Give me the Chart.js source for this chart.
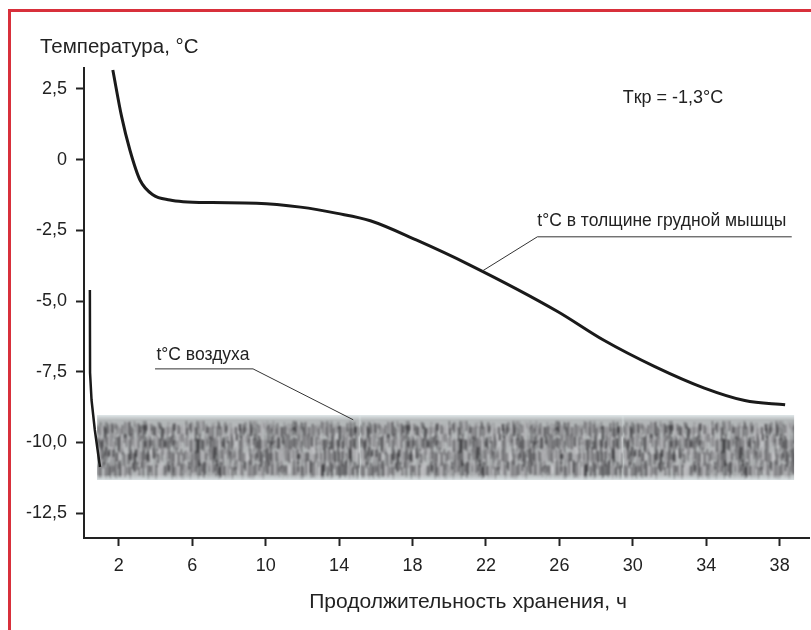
<!DOCTYPE html>
<html>
<head>
<meta charset="utf-8">
<script src="https://cdn.jsdelivr.net/npm/chart.js@4/dist/chart.umd.min.js"></script>
<style>
  body { margin: 0; background: #fff; }
  #wrap { position: relative; width: 811px; height: 630px; }
  #frame { position: absolute; left: 8px; top: 9px; right: 0; bottom: 0;
           border-top: 3px solid #d8303b; border-left: 3px solid #d8303b; pointer-events: none; }
  canvas { position: absolute; left: 0; top: 0; }
</style>
</head>
<body>
<div id="wrap">
  <canvas id="chart" width="811" height="630"></canvas>
  <div id="frame"></div>
</div>
<script>
// температура в толще грудной мышцы
const muscleHours = [1.67, 2.15, 2.6, 3.15, 3.87, 4.78, 5.5, 7.1, 9.5, 11.9, 13.9, 15.7, 18.2, 21.1, 25.9, 28.4, 31.2, 33.9, 36.1, 38.3];
const muscleTemp  = [3.17, 1.52, 0.34, -0.72, -1.25, -1.43, -1.49, -1.52, -1.54, -1.68, -1.9, -2.16, -2.84, -3.72, -5.37, -6.38, -7.32, -8.08, -8.52, -8.67];

// температура воздуха: начальный спад
const airHours = [0.42, 0.43, 0.51, 0.69, 0.97];
const airTemp  = [-4.61, -7.54, -8.5, -9.56, -10.87];

// полоса колебаний температуры воздуха
const bandHours  = [0.8, 38.8];
const bandTop    = [-9.03, -9.03];
const bandBottom = [-11.33, -11.33];

const xTicks = [2, 6, 10, 14, 18, 22, 26, 30, 34, 38];
const yTicks = [2.5, 0, -2.5, -5, -7.5, -10, -12.5];

const FONT = "'Liberation Sans', Arial, Helvetica, sans-serif";
const INK = '#222';

function toPoints(xs, ys) {
  return xs.map((x, i) => ({ x: x, y: ys[i] }));
}

// "шумная" текстура полосы (только оформление)
function hash(n) {
  return Math.abs(Math.sin(n * 12.9898 + 78.233) * 43758.5453) % 1;
}

function makeTexture() {
  const W = 263, H = 66;
  const raw = document.createElement('canvas');
  raw.width = W; raw.height = H;
  const g = raw.getContext('2d');
  g.fillStyle = '#b3b7b8';
  g.fillRect(0, 0, W, H);
  for (let i = 0; i < W; i++) {
    for (let r = 0; r < 4; r++) {
      const h = hash(i * 7 + r * 131);
      const k = hash(i * 3 + r * 57 + 11);
      const s = Math.round(55 + h * 150);
      g.fillStyle = 'rgb(' + s + ',' + s + ',' + (s + 3) + ')';
      const y0 = 6 + r * 13 + Math.floor(k * 8);
      g.fillRect(i, y0, 1, 6 + Math.floor(hash(i + r * 19) * 14));
    }
  }
  const c = document.createElement('canvas');
  c.width = W; c.height = H;
  const g2 = c.getContext('2d');
  g2.fillStyle = '#dde3e5';
  g2.fillRect(0, 0, W, H);
  g2.filter = 'blur(0.9px)';
  g2.drawImage(raw, 0, 0);
  g2.filter = 'none';
  const edge = g2.createLinearGradient(0, 0, 0, H);
  edge.addColorStop(0, 'rgba(225,232,234,0.95)');
  edge.addColorStop(0.08, 'rgba(225,232,234,0)');
  edge.addColorStop(0.9, 'rgba(225,232,234,0)');
  edge.addColorStop(1, 'rgba(225,232,234,0.95)');
  g2.fillStyle = edge;
  g2.fillRect(0, 0, W, H);
  return g2.createPattern(c, 'repeat');
}

const bandPattern = makeTexture();

function fmt(v) {
  if (v === 0) return '0';
  return v.toFixed(1).replace('.', ',');
}

// привязка текстуры к верхнему краю полосы
const patternPlugin = {
  id: 'patternAnchor',
  beforeDatasetsDraw(chart) {
    const top = chart.scales.y.getPixelForValue(bandTop[0]);
    const left = chart.scales.x.getPixelForValue(bandHours[0]);
    bandPattern.setTransform(new DOMMatrix().translate(left, top));
  }
};

// подписи и выноски
const labelsPlugin = {
  id: 'labels',
  afterDraw(chart) {
    const ctx = chart.ctx;
    const xs = chart.scales.x, ys = chart.scales.y;
    const px = v => xs.getPixelForValue(v);
    const py = v => ys.getPixelForValue(v);
    ctx.save();
    ctx.fillStyle = INK;
    ctx.strokeStyle = '#333';
    ctx.lineWidth = 1;

    // выноска к кривой мышцы
    ctx.beginPath();
    ctx.moveTo(px(21.8), py(-3.94));
    ctx.lineTo(px(24.8), py(-2.73));
    ctx.lineTo(px(38.66), py(-2.73));
    ctx.stroke();
    ctx.font = '17.5px ' + FONT;
    ctx.textAlign = 'left';
    ctx.textBaseline = 'alphabetic';
    ctx.fillText('t°C в толщине грудной мышцы', px(24.8), py(-2.73) - 11);

    // выноска к воздуху
    ctx.beginPath();
    ctx.moveTo(px(3.97), py(-7.4));
    ctx.lineTo(px(9.31), py(-7.4));
    ctx.lineTo(px(14.77), py(-9.2));
    ctx.stroke();
    ctx.fillText('t°C воздуха', px(4.05), py(-7.4) - 9);

    ctx.font = '18px ' + FONT;
    ctx.textBaseline = 'middle';
    ctx.fillText('Tкр = -1,3°C', px(29.45), py(2.18));

    // заголовки осей
    ctx.font = '20.5px ' + FONT;
    ctx.textBaseline = 'alphabetic';
    ctx.fillText('Температура, °C', 40, 53);
    ctx.textAlign = 'center';
    ctx.font = '21px ' + FONT;
    ctx.fillText('Продолжительность хранения, ч', 468, 608);
    ctx.restore();
  }
};

const ctx = document.getElementById('chart').getContext('2d');
new Chart(ctx, {
  type: 'line',
  data: {
    datasets: [
      {
        label: 'мышца',
        data: toPoints(muscleHours, muscleTemp),
        borderColor: '#1a1a1a',
        borderWidth: 3,
        pointRadius: 0,
        cubicInterpolationMode: 'monotone',
        fill: false
      },
      {
        label: 'воздух',
        data: toPoints(airHours, airTemp),
        borderColor: '#1a1a1a',
        borderWidth: 2.5,
        pointRadius: 0,
        tension: 0,
        fill: false
      },
      {
        label: 'низ',
        data: toPoints(bandHours, bandBottom),
        borderWidth: 0,
        borderColor: 'rgba(0,0,0,0)',
        pointRadius: 0,
        fill: false
      },
      {
        label: 'верх',
        data: toPoints(bandHours, bandTop),
        borderWidth: 0,
        borderColor: 'rgba(0,0,0,0)',
        pointRadius: 0,
        backgroundColor: bandPattern,
        fill: '-1'
      }
    ]
  },
  options: {
    responsive: false,
    animation: false,
    devicePixelRatio: 1,
    layout: { padding: { left: 0, right: 2, top: 68, bottom: 0 } },
    plugins: {
      legend: { display: false },
      tooltip: { enabled: false }
    },
    scales: {
      x: {
        type: 'linear',
        min: 0.1,
        max: 39.6,
        afterBuildTicks: s => { s.ticks = xTicks.map(v => ({ value: v })); },
        afterFit: s => { s.height = 92; },
        grid: { drawOnChartArea: false, drawTicks: true, tickLength: 8, tickWidth: 2, tickColor: INK },
        border: { display: true, color: INK, width: 2 },
        ticks: { color: INK, font: { family: FONT, size: 18 }, padding: 9, maxRotation: 0 }
      },
      y: {
        type: 'linear',
        min: -13.38,
        max: 3.24,
        afterBuildTicks: s => { s.ticks = yTicks.map(v => ({ value: v })); },
        afterFit: s => { s.width = 84; },
        grid: { drawOnChartArea: false, drawTicks: true, tickLength: 8, tickWidth: 2, tickColor: INK },
        border: { display: true, color: INK, width: 2 },
        ticks: { color: INK, font: { family: FONT, size: 18 }, padding: 9, callback: v => fmt(v) }
      }
    }
  },
  plugins: [patternPlugin, labelsPlugin]
});
</script>
</body>
</html>
